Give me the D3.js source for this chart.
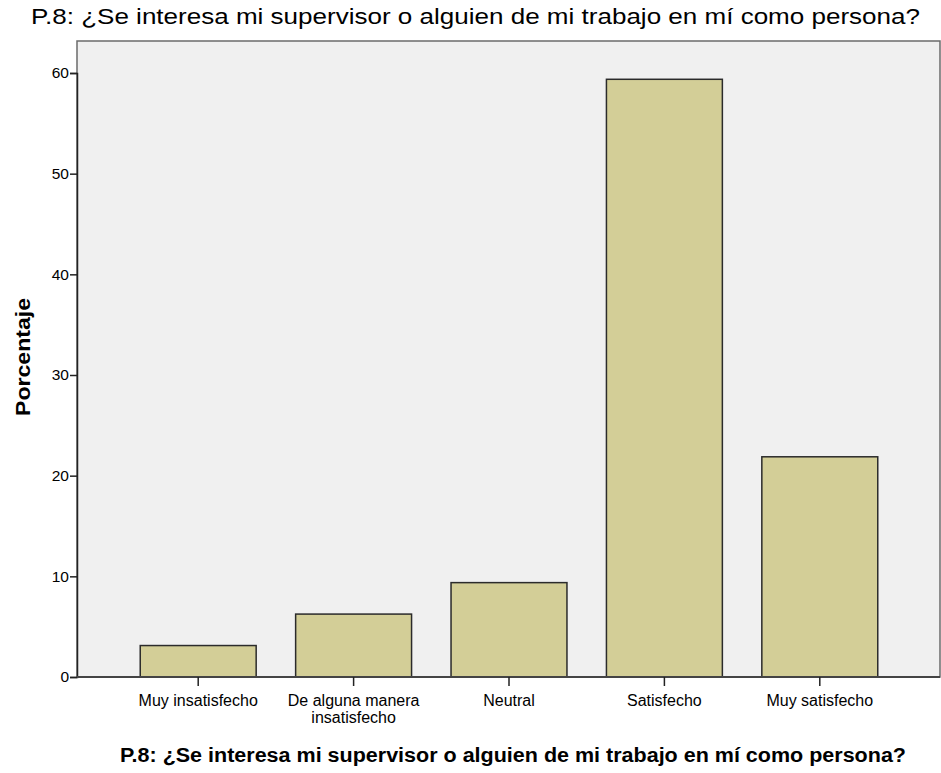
<!DOCTYPE html>
<html>
<head>
<meta charset="utf-8">
<script src="https://cdn.jsdelivr.net/npm/d3@7"></script>
<style>
  body { margin: 0; background: #fff; }
  text { font-family: 'Liberation Sans', Arial, sans-serif; fill: #000; }
</style>
</head>
<body>
<svg id="chart" width="941" height="773"></svg>
<script>
const TITLE = 'P.8: ¿Se interesa mi supervisor o alguien de mi trabajo en mí como persona?'
const Y_LABEL = 'Porcentaje'

const categories = [
  'Muy insatisfecho',
  'De alguna manera\ninsatisfecho',
  'Neutral',
  'Satisfecho',
  'Muy satisfecho',
]
const percentages = [3.125, 6.25, 9.375, 59.375, 21.875]
const yTicks = [0, 10, 20, 30, 40, 50, 60]

const svg = d3.select('#chart')

// plot frame
const frame = { left: 77, top: 41, right: 940, bottom: 677 }

svg
  .append('rect')
  .attr('x', frame.left)
  .attr('y', frame.top)
  .attr('width', frame.right - frame.left)
  .attr('height', frame.bottom - frame.top)
  .attr('fill', '#f0f0f0')
  .attr('stroke', '#6b6b6b')
  .attr('stroke-width', 1.5)

const xs = d3
  .scaleBand()
  .domain(categories)
  .range([120.5, 897.5])
  .paddingInner(0.254)
  .paddingOuter(0.127)

const ys = d3.scaleLinear().domain([0, 60]).range([677, 73])

// bars
svg
  .append('g')
  .classed('bars', true)
  .selectAll('rect')
  .data(categories)
  .join('rect')
  .attr('x', (d) => xs(d))
  .attr('width', xs.bandwidth())
  .attr('y', (d, i) => ys(percentages[i]))
  .attr('height', (d, i) => ys(0) - ys(percentages[i]))
  .attr('fill', '#d3ce97')
  .attr('stroke', '#2b2b2b')
  .attr('stroke-width', 1.5)

// y axis
const yAxis = svg
  .append('g')
  .attr('transform', `translate(${frame.left}, 0)`)
  .call(d3.axisLeft(ys).tickValues(yTicks).tickSize(7).tickPadding(1))
yAxis.select('.domain').attr('stroke', '#222').attr('stroke-width', 1.5)
yAxis.selectAll('.tick line').attr('stroke', '#222').attr('stroke-width', 1.5)
yAxis
  .selectAll('.tick text')
  .style('font-size', '15.5px')
  .style('font-family', "'Liberation Sans', Arial, sans-serif")
  .attr('fill', '#111')

// x axis
const xAxis = svg
  .append('g')
  .attr('transform', `translate(0, ${frame.bottom})`)
  .call(d3.axisBottom(xs).tickSize(9).tickFormat(''))
xAxis.select('.domain').attr('stroke', '#444').attr('stroke-width', 2).attr('d', `M${frame.left},0H${frame.right}`)
xAxis.selectAll('.tick line').attr('stroke', '#222').attr('stroke-width', 1.5)

xAxis
  .selectAll('.tick')
  .append('text')
  .attr('text-anchor', 'middle')
  .style('font-size', '16px')
  .attr('fill', '#111')
  .selectAll('tspan')
  .data((d) => d.split('\n'))
  .join('tspan')
  .attr('x', 0)
  .attr('y', (d, i) => 29 + i * 17)
  .text((d) => d)

// y label
svg
  .append('text')
  .attr('transform', 'translate(30, 357) rotate(-90)')
  .attr('text-anchor', 'middle')
  .attr('textLength', 118)
  .attr('lengthAdjust', 'spacingAndGlyphs')
  .style('font-size', '20px')
  .style('font-weight', 'bold')
  .text(Y_LABEL)

// top title
svg
  .append('text')
  .attr('x', 31)
  .attr('y', 24)
  .attr('textLength', 889)
  .attr('lengthAdjust', 'spacingAndGlyphs')
  .style('font-size', '22px')
  .text(TITLE)

// bottom title
svg
  .append('text')
  .attr('x', 120)
  .attr('y', 762)
  .attr('textLength', 786)
  .attr('lengthAdjust', 'spacingAndGlyphs')
  .style('font-size', '20px')
  .style('font-weight', 'bold')
  .text(TITLE)
</script>
</body>
</html>
